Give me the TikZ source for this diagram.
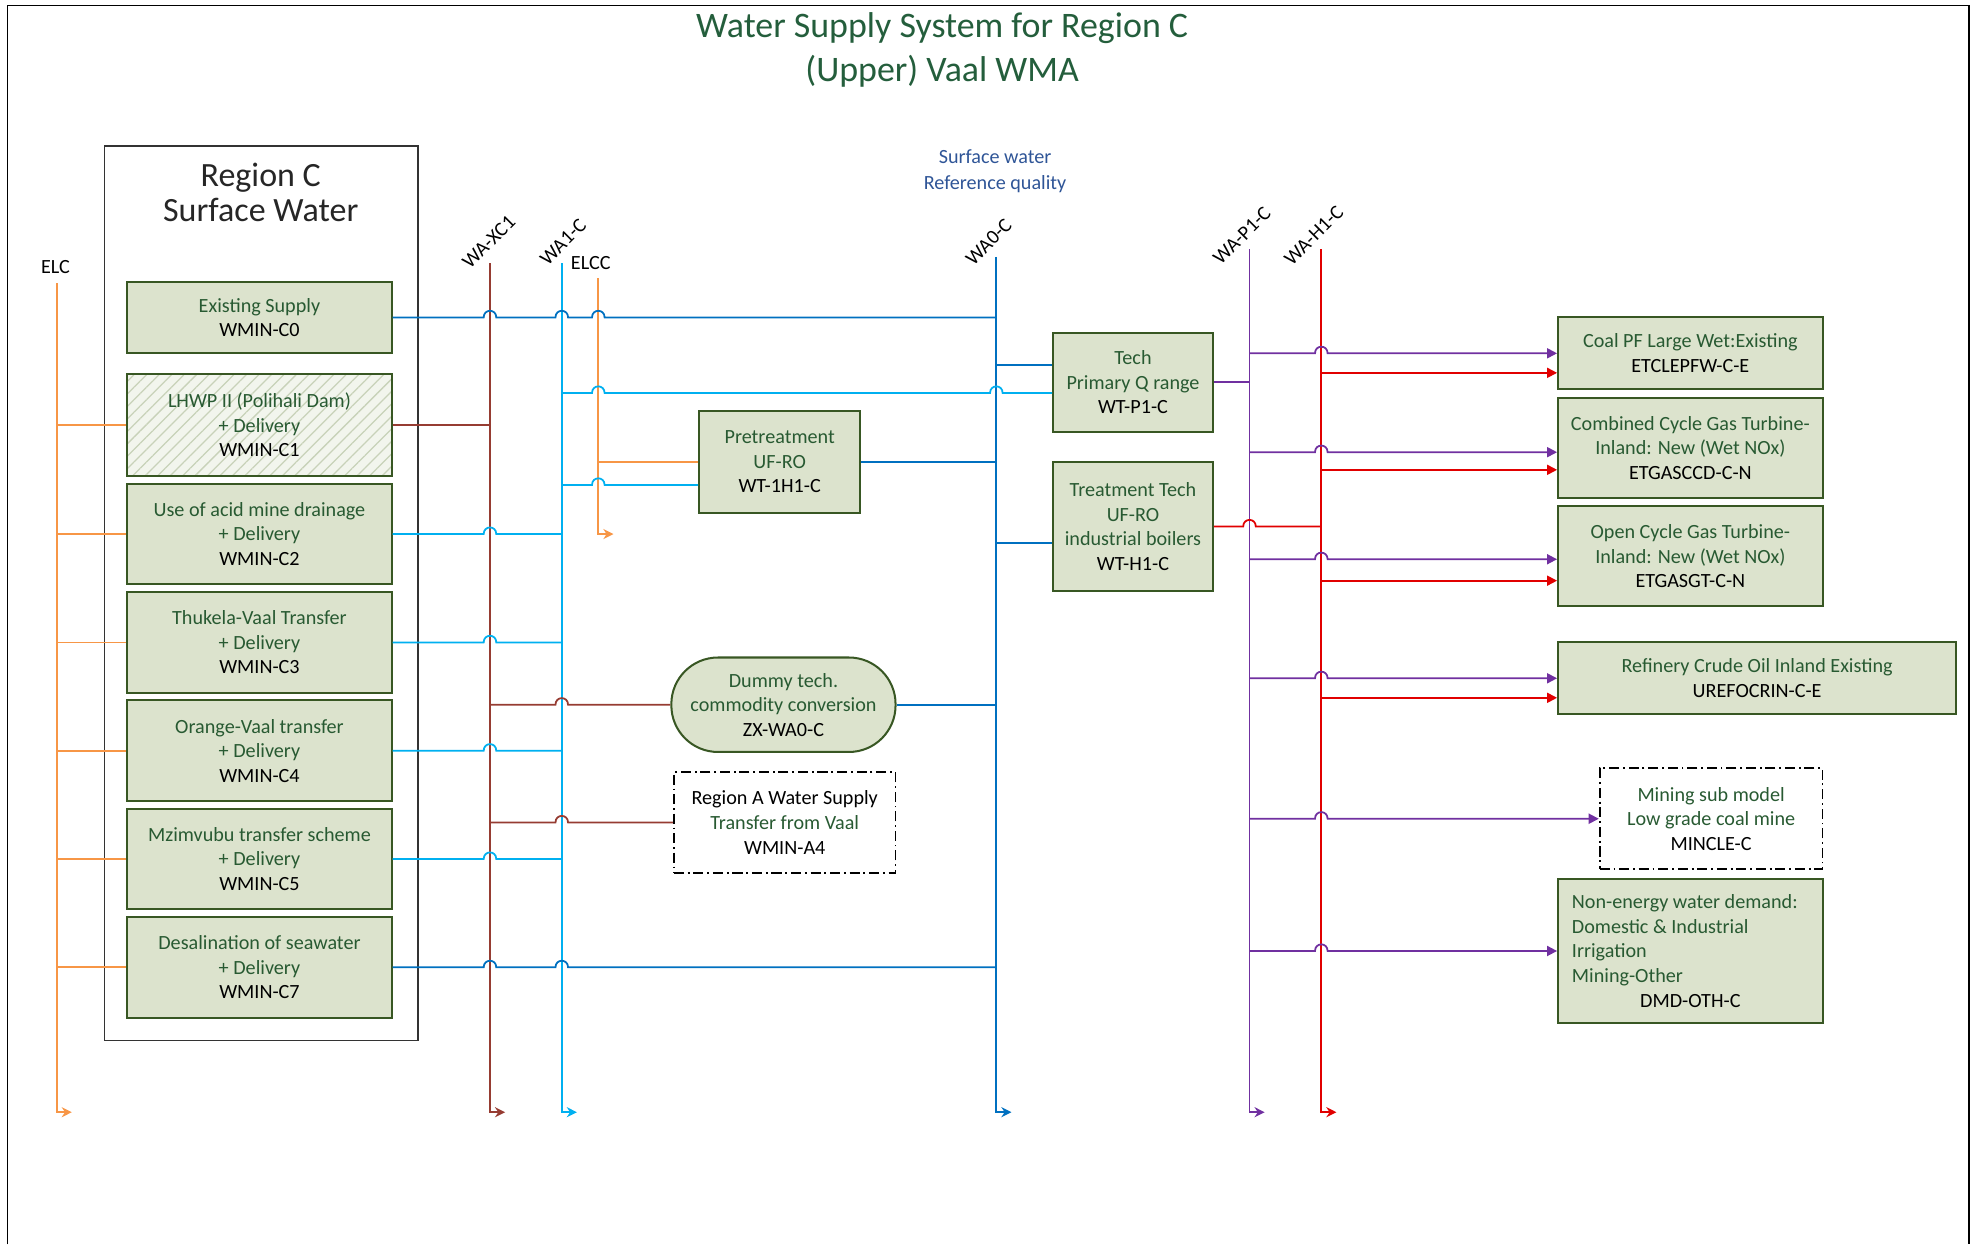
\documentclass[tikz,border=0pt]{standalone}
\usepackage{fontspec}
\setmainfont{Carlito}
\usetikzlibrary{arrows.meta,patterns.meta,calc}
\definecolor{boxfill}{RGB}{220,227,205}
\definecolor{boxline}{RGB}{56,87,35}
\definecolor{tgreen}{RGB}{40,90,50}
\definecolor{titlegreen}{RGB}{36,94,60}
\definecolor{orng}{RGB}{247,150,70}
\definecolor{brwn}{RGB}{150,60,50}
\definecolor{lblue}{RGB}{0,176,240}
\definecolor{dblue}{RGB}{0,112,192}
\definecolor{purp}{RGB}{112,48,160}
\definecolor{redl}{RGB}{225,0,0}
\definecolor{lblabel}{RGB}{47,85,151}
\definecolor{hatchc}{RGB}{200,210,185}
\definecolor{hatchbg}{RGB}{242,245,237}
\newcommand\hopat[2]{-- (#1-5,#2) .. controls (#1-5,#2-7) and (#1+5,#2-7) .. (#1+5,#2)}
\newcommand\boxfont{\fontsize{16}{19.5}\selectfont}
\newcommand\lblfont{\fontsize{16}{18}\selectfont}
\newcommand\gr[1]{\textcolor{tgreen}{#1}}
\begin{document}
\begin{tikzpicture}[x=1pt,y=-1pt,
  conn/.style={line width=1.4pt},
  bx/.style={draw=boxline, line width=1.6pt, fill=boxfill, align=center, inner sep=0pt, font=\boxfont},
  dd/.style={draw=black, line width=1.4pt, dash pattern=on 8pt off 3pt on 1.5pt off 3pt, align=center, inner sep=0pt, font=\boxfont},
  lab/.style={font=\lblfont, inner sep=0pt},
  endarr/.style={-{Stealth[length=8pt,width=8pt]}},
  tri/.style={-{Triangle[length=8pt,width=8pt]}}]
\useasboundingbox (0,0) rectangle (1568,988);
% outer frame
\draw[line width=1.3pt] (6,988) -- (6,4.5) -- (1563,4.5) -- (1563,988);
% title
\node[align=center, text=titlegreen, font=\fontsize{28.5}{35}\selectfont] (title) at (748,40) {Water Supply System for Region C\\(Upper) Vaal WMA};
% region C box
\node[draw=black!80, line width=1.4pt, minimum width=249pt, minimum height=710pt, inner sep=0pt] (regc) at (207.5,471) {};
\node[align=center, font=\fontsize{27}{28}\selectfont, text=black!85] (regt) at (207,153) {Region C\\Surface Water};
% supply boxes
\node[bx, minimum width=210pt, minimum height=56pt] (es) at (206,252) {\gr{Existing Supply}\\WMIN-C0};
\node[bx, fill=none, preaction={fill=hatchbg}, preaction={pattern={Lines[angle=45,distance=7pt,line width=1pt]}, pattern color=hatchc}, minimum width=210pt, minimum height=81pt] (c1) at (206,337.5) {\gr{LHWP II (Polihali Dam)}\\\gr{+ Delivery}\\WMIN-C1};
\node[bx, minimum width=210pt, minimum height=80pt] (c2) at (206,424) {\gr{Use of acid mine drainage}\\\gr{+ Delivery}\\WMIN-C2};
\node[bx, minimum width=210pt, minimum height=80pt] (c3) at (206,510) {\gr{Thukela-Vaal Transfer}\\\gr{+ Delivery}\\WMIN-C3};
\node[bx, minimum width=210pt, minimum height=80pt] (c4) at (206,596) {\gr{Orange-Vaal transfer}\\\gr{+ Delivery}\\WMIN-C4};
\node[bx, minimum width=210pt, minimum height=80pt] (c5) at (206,682) {\gr{Mzimvubu transfer scheme}\\\gr{+ Delivery}\\WMIN-C5};
\node[bx, minimum width=210pt, minimum height=80pt] (c7) at (206,768) {\gr{Desalination of seawater}\\\gr{+ Delivery}\\WMIN-C7};
% middle boxes
\node[bx, minimum width=128pt, minimum height=81pt] (pre) at (619,366.5) {\gr{Pretreatment}\\\gr{UF-RO}\\WT-1H1-C};
\node[bx, minimum width=127pt, minimum height=79pt] (tp) at (899.5,303.5) {\gr{Tech}\\\gr{Primary Q range}\\WT-P1-C};
\node[bx, minimum width=127pt, minimum height=102pt] (tt) at (899.5,418) {\gr{Treatment Tech}\\\gr{UF-RO}\\\gr{industrial boilers}\\WT-H1-C};
\node[bx, rounded corners=37pt, minimum width=178pt, minimum height=75pt] (dm) at (622,559.5) {\gr{Dummy tech.}\\\gr{commodity conversion}\\ZX-WA0-C};
\node[dd, minimum width=176pt, minimum height=80pt] (ra) at (623,653) {Region A Water Supply\\\gr{Transfer from Vaal}\\WMIN-A4};
% right boxes
\node[bx, minimum width=210pt, minimum height=57pt] (coal) at (1342,280.5) {\gr{Coal PF Large Wet:Existing}\\ETCLEPFW-C-E};
\node[bx, minimum width=210pt, minimum height=79pt] (ccgt) at (1342,355.5) {\gr{Combined Cycle Gas Turbine-}\\\gr{Inland: New (Wet NOx)}\\ETGASCCD-C-N};
\node[bx, minimum width=210pt, minimum height=79pt] (ocgt) at (1342,441.5) {\gr{Open Cycle Gas Turbine-}\\\gr{Inland: New (Wet NOx)}\\ETGASGT-C-N};
\node[bx, minimum width=316pt, minimum height=57pt] (ref) at (1395,538.5) {\gr{Refinery Crude Oil Inland Existing}\\UREFOCRIN-C-E};
\node[dd, minimum width=177pt, minimum height=80pt] (mine) at (1358.5,650) {\gr{Mining sub model}\\\gr{Low grade coal mine}\\MINCLE-C};
\node[bx, align=flush left, text width=188pt, minimum width=210pt, minimum height=114pt] (dmd) at (1342,755) {\gr{Non-energy water demand:}\\\gr{Domestic \& Industrial}\\\gr{Irrigation}\\\gr{Mining-Other}\\\makebox[188pt][c]{DMD-OTH-C}};
% bus coordinates
\coordinate (elcT) at (45,225); \coordinate (elcB) at (45,883);
\coordinate (xcT) at (389,209); \coordinate (xcB) at (389,883);
\coordinate (a1T) at (446,209); \coordinate (a1B) at (446,883);
\coordinate (ccT) at (475,221); \coordinate (ccB) at (475,424);
\coordinate (a0T) at (791,204); \coordinate (a0B) at (791,883);
\coordinate (p1T) at (992,198); \coordinate (p1B) at (992,883);
\coordinate (h1T) at (1049,198); \coordinate (h1B) at (1049,883);
% bus labels
\node[lab] (lelc) at (44,212) {ELC};
\node[lab] (lelcc) at (469,209) {ELCC};
\node[lab, rotate=45] (lxc) at (388,192) {WA-XC1};
\node[lab, rotate=45] (la1) at (447,192) {WA1-C};
\node[lab, rotate=45] (la0) at (785,192) {WA0-C};
\node[lab, rotate=45] (lp1) at (986,187) {WA-P1-C};
\node[lab, rotate=45] (lh1) at (1043,187) {WA-H1-C};
\node[lab, align=center, text=lblabel, font=\fontsize{16}{20}\selectfont] (lsw) at (790,136) {Surface water\\Reference quality};
% buses
\draw[conn, orng, endarr] (elcT) -- (elcB) -- ++(12,0);
\draw[conn, brwn, endarr] (xcT) -- (xcB) -- ++(12,0);
\draw[conn, lblue, endarr] (a1T) -- (a1B) -- ++(12,0);
\draw[conn, orng, endarr] (ccT) -- (ccB) -- ++(12,0);
\draw[conn, dblue, endarr] (a0T) -- (a0B) -- ++(12,0);
\draw[conn, purp, endarr] (p1T) -- (p1B) -- ++(12,0);
\draw[conn, redl, endarr] (h1T) -- (h1B) -- ++(12,0);
% ELC branches
\foreach \b in {c1,c2,c3,c4,c5,c7} \draw[conn, orng] (elcT |- \b.west) -- (\b.west);
% supply outputs
\draw[conn, dblue] (es.east) \hopat{389}{252} \hopat{446}{252} \hopat{475}{252} -- (es.east -| a0T);
\draw[conn, brwn] (c1.east) -- (c1.east -| xcT);
\draw[conn, lblue] (c2.east) \hopat{389}{424} -- (c2.east -| a1T);
\draw[conn, lblue] (c3.east) \hopat{389}{510} -- (c3.east -| a1T);
\draw[conn, lblue] (c4.east) \hopat{389}{596} -- (c4.east -| a1T);
\draw[conn, lblue] (c5.east) \hopat{389}{682} -- (c5.east -| a1T);
\draw[conn, dblue] (c7.east) \hopat{389}{768} \hopat{446}{768} -- (c7.east -| a0T);
% middle
\coordinate (tpin1) at ([yshift=13.5pt]tp.west);
\coordinate (tpin2) at ([yshift=-8.5pt]tp.west);
\draw[conn, dblue] (a0T |- tpin1) -- (tpin1);
\draw[conn, lblue] (a1T |- tpin2) \hopat{475}{312} \hopat{791}{312} -- (tpin2);
\coordinate (prein2) at ([yshift=-18.5pt]pre.west);
\draw[conn, orng] (ccT |- pre.west) -- (pre.west);
\draw[conn, lblue] (a1T |- prein2) \hopat{475}{385} -- (prein2);
\draw[conn, dblue] (pre.east) -- (pre.east -| a0T);
\coordinate (ttin) at ([yshift=-13pt]tt.west);
\draw[conn, dblue] (a0T |- ttin) -- (ttin);
\draw[conn, brwn] (xcT |- dm.west) \hopat{446}{559.5} -- (dm.west);
\draw[conn, dblue] (dm.east) -- (dm.east -| a0T);
\draw[conn, brwn] (xcT |- ra.west) \hopat{446}{653} -- (ra.west);
\draw[conn, purp] (tp.east) -- (tp.east -| p1T);
\draw[conn, redl] (tt.east) \hopat{992}{418} -- (tt.east -| h1T);
% right side
\coordinate (coalr) at ([yshift=-15.5pt]coal.west);
\coordinate (ccgtp) at ([yshift=-3.5pt]ccgt.west);
\coordinate (ccgtr) at ([yshift=-17.5pt]ccgt.west);
\coordinate (ocgtp) at ([yshift=-2.5pt]ocgt.west);
\coordinate (ocgtr) at ([yshift=-19.5pt]ocgt.west);
\coordinate (refr) at ([yshift=-15.5pt]ref.west);
\draw[conn, purp, tri] (p1T |- coal.west) \hopat{1049}{280.5} -- (coal.west);
\draw[conn, redl, tri] (h1T |- coalr) -- (coalr);
\draw[conn, purp, tri] (p1T |- ccgtp) \hopat{1049}{359} -- (ccgtp);
\draw[conn, redl, tri] (h1T |- ccgtr) -- (ccgtr);
\draw[conn, purp, tri] (p1T |- ocgtp) \hopat{1049}{444} -- (ocgtp);
\draw[conn, redl, tri] (h1T |- ocgtr) -- (ocgtr);
\draw[conn, purp, tri] (p1T |- ref.west) \hopat{1049}{538.5} -- (ref.west);
\draw[conn, redl, tri] (h1T |- refr) -- (refr);
\draw[conn, purp, tri] (p1T |- mine.west) \hopat{1049}{650} -- (mine.west);
\draw[conn, purp, tri] (p1T |- dmd.west) \hopat{1049}{755} -- (dmd.west);
\end{tikzpicture}
\end{document}
